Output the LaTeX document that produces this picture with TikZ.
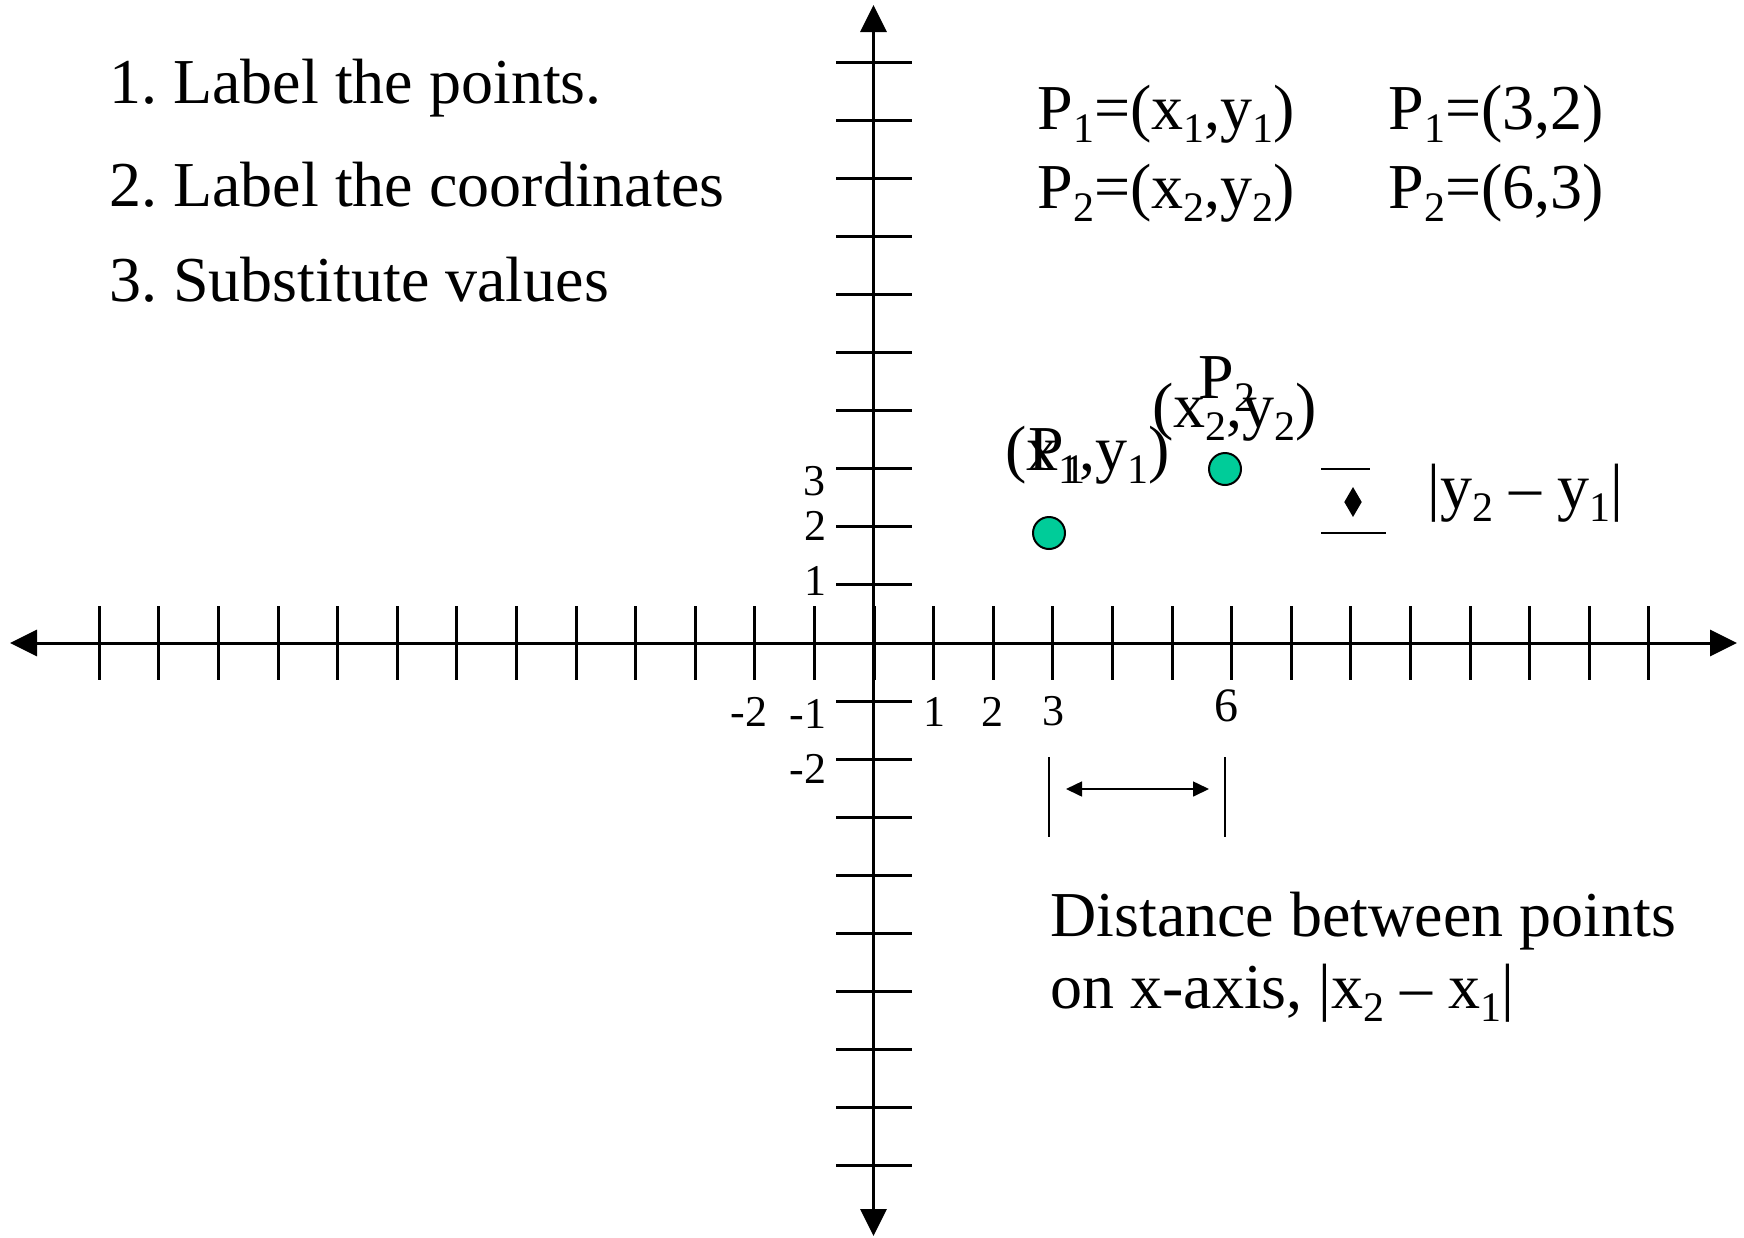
\documentclass[tikz,border=0pt]{standalone}
\usepackage{fontspec}
\setmainfont{Liberation Serif}
\usetikzlibrary{arrows.meta}
\definecolor{ptgreen}{RGB}{0,204,153}
\tikzset{
  axis/.style={line width=1.5pt},
  tickline/.style={line width=1.5pt},
  thinline/.style={line width=0.8pt},
  dot/.style={circle,draw,line width=1pt,fill=ptgreen,minimum size=16pt,inner sep=0pt},
  txt/.style={font=\fontsize{32}{38}\selectfont,inner sep=0pt,anchor=base west},
  num/.style={font=\fontsize{22}{26}\selectfont,inner sep=0pt},
}
\newcommand{\sub}[1]{\raisebox{-6.5pt}{\fontsize{21}{24}\selectfont #1}}
\frenchspacing
\begin{document}
\begin{tikzpicture}[x=0.5pt,y=-0.5pt,>={Triangle[length=13.5pt,width=13pt]}]
\useasboundingbox (0,0) rectangle (1744,1237);
% axes
\coordinate (xl) at (10,643);
\coordinate (xr) at (1737,643);
\coordinate (yt) at (873.5,5);
\coordinate (yb) at (873.5,1236);
\draw[axis,<->] (xl) -- (xr);
\draw[axis,<->] (yt) -- (yb);
\foreach \i in {-13,...,13}
  \draw[tickline] ({874+59.6*\i},606) -- ({874+59.6*\i},680);
\foreach \j in {-9,...,10}
  \draw[tickline] (836,{643-58.1*\j}) -- (912,{643-58.1*\j});
% tick labels
\node[num] (xm2) at (749,712) {-2};
\node[num] (xm1) at (808,714) {-1};
\node[num] (x1) at (934,712) {1};
\node[num] (x2) at (992,712) {2};
\node[num] (x3) at (1053,711) {3};
\node[num,font=\fontsize{24}{28}\selectfont] (x6) at (1226,706) {6};
\node[num] (y3) at (814,481) {3};
\node[num] (y2) at (815,526) {2};
\node[num] (y1) at (815,581) {1};
\node[num] (ym2) at (808,769) {-2};
% steps
\node[txt] (s1) at (109,103) {1. Label the points.};
\node[txt] (s2) at (109,206) {2. Label the coordinates};
\node[txt] (s3) at (109,301) {3. Substitute values};
\node[txt] (d1) at (1037,129) {P\sub{1}=(x\sub{1},y\sub{1})};
\node[txt] (d2) at (1037,208) {P\sub{2}=(x\sub{2},y\sub{2})};
\node[txt] (v1) at (1388,129) {P\sub{1}=(3,2)};
\node[txt] (v2) at (1388,208) {P\sub{2}=(6,3)};
% points
\node[dot] (p1) at (1049,533) {};
\node[dot] (p2) at (1225,469) {};
\node[txt] (c1) at (1005,470) {(x\sub{1},y\sub{1})};
\node[txt] (n1) at (1028,470) {P\sub{1}};
\node[txt] (c2) at (1152,427) {(x\sub{2},y\sub{2})};
\node[txt] (n2) at (1198,398) {P\sub{2}};
% vertical distance
\coordinate (ha) at (1321,469);
\coordinate (hb) at (1370,469);
\coordinate (hc) at (1321,533);
\coordinate (hd) at (1386,533);
\draw[thinline] (ha) -- (hb);
\draw[thinline] (hc) -- (hd);
\coordinate (da) at (1353,487);
\coordinate (db) at (1353,517);
\draw[thinline,{Triangle[length=7.5pt,width=8.5pt]}-{Triangle[length=7.5pt,width=8.5pt]}] (da) -- (db);
\node[txt] (dy) at (1427,508) {|y\sub{2} – y\sub{1}|};
% horizontal distance
\coordinate (la) at (1049,757);
\coordinate (lb) at (1049,837);
\coordinate (ra) at (1225,757);
\coordinate (rb) at (1225,837);
\draw[thinline] (la) -- (lb);
\draw[thinline] (ra) -- (rb);
\coordinate (aa) at (1066,789);
\coordinate (ab) at (1209,789);
\draw[thinline,{Triangle[length=8pt,width=7.5pt]}-{Triangle[length=8pt,width=7.5pt]}] (aa) -- (ab);
\node[txt] (t1) at (1050,936) {Distance between points};
\node[txt] (t2) at (1050,1008) {on x-axis, |x\sub{2} – x\sub{1}|};
\end{tikzpicture}
\end{document}
